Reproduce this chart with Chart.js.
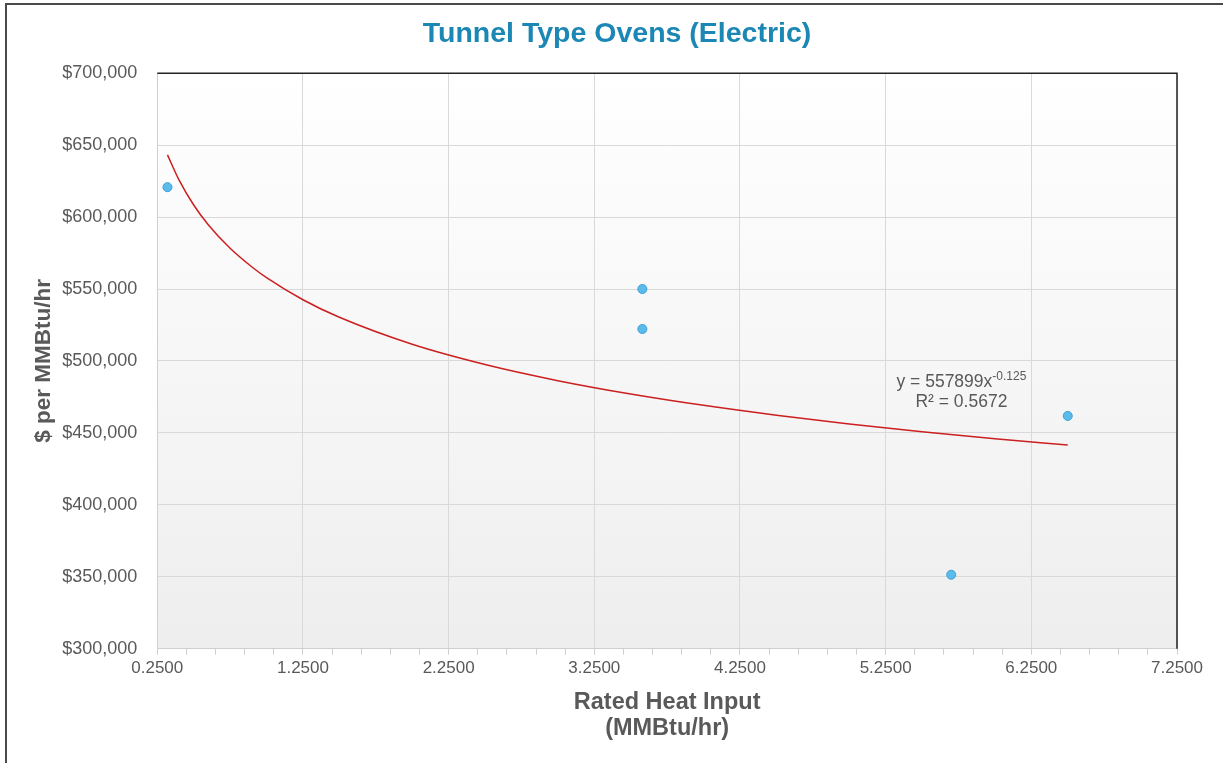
<!DOCTYPE html>
<html>
<head>
<meta charset="utf-8">
<script src="https://cdn.jsdelivr.net/npm/chart.js@4.4.1/dist/chart.umd.min.js"></script>
<style>
  html, body { margin:0; padding:0; background:#fff; overflow:hidden; }
  #frame { position:absolute; left:5px; top:3px; width:1300px; height:900px;
           border-left:2px solid #4a4a4a; border-top:2px solid #4a4a4a; }
  #myChart { position:absolute; left:0; top:0; }
</style>
</head>
<body>
<div id="frame"></div>
<canvas id="myChart" width="1223" height="763"></canvas>
<script>
// measured points
var heatInput = [0.32, 3.58, 3.58, 5.70, 6.50];
var costPerMMBtu = [620800, 550000, 522200, 351400, 461800];

// power trendline
var trendX = [0.32, 0.4, 0.5, 0.6, 0.75, 0.9, 1.0, 1.25, 1.5, 2.0, 2.5, 3.0, 3.5, 4.0, 4.5, 5.0, 5.5, 6.0, 6.5];
var trendY = [643260, 625640, 608390, 594670, 578300, 565300, 557899, 542560, 530330, 511590, 497520, 486310, 477030, 469140, 462280, 456230, 450830, 445950, 441500];

var xMajorTicks = [0.25, 1.25, 2.25, 3.25, 4.25, 5.25, 6.25, 7.25];
var yTicks = [300000, 350000, 400000, 450000, 500000, 550000, 600000, 650000, 700000];
var trendLabel = ["y = 557899x", "-0.125", "R\u00b2 = 0.5672"];

var txtColor = '#595959';
var gridColor = '#d9d9d9';
var fam = '"Liberation Sans", Arial, sans-serif';

function isMajor(v){
  for (var i=0;i<xMajorTicks.length;i++){ if (Math.abs(xMajorTicks[i]-v) < 1e-6) return true; }
  return false;
}

var pointsXY = heatInput.map(function(x,i){ return {x:x, y:costPerMMBtu[i]}; });
var trendXY = trendX.map(function(x,i){ return {x:x, y:trendY[i]}; });

var plotDeco = {
  id:'plotDeco',
  beforeDraw:function(chart){
    var a = chart.chartArea, c = chart.ctx;
    var g = c.createLinearGradient(0, a.top, 0, a.bottom);
    g.addColorStop(0, '#ffffff');
    g.addColorStop(1, '#eeeeee');
    c.save();
    c.fillStyle = g;
    c.fillRect(a.left, a.top, a.right-a.left, a.bottom-a.top);
    c.restore();
  },
  afterDatasetsDraw:function(chart){
    var a = chart.chartArea, c = chart.ctx;
    c.save();
    c.strokeStyle = '#222';
    c.lineWidth = 1.5;
    c.beginPath();
    c.moveTo(a.left, a.top);
    c.lineTo(a.right, a.top);
    c.lineTo(a.right, a.bottom);
    c.stroke();

    // trendline equation
    var xs = chart.scales.x, ys = chart.scales.y;
    var cx = xs.getPixelForValue(5.77);
    var y1 = ys.getPixelForValue(485400);
    var y2 = ys.getPixelForValue(471500);
    c.fillStyle = txtColor;
    c.textBaseline = 'middle';
    c.font = '17.5px ' + fam;
    var w1 = c.measureText(trendLabel[0]).width;
    c.font = '12px ' + fam;
    var w2 = c.measureText(trendLabel[1]).width;
    var sx = cx - (w1+w2)/2;
    c.font = '17.5px ' + fam;
    c.textAlign = 'left';
    c.fillText(trendLabel[0], sx, y1);
    c.font = '12px ' + fam;
    c.fillText(trendLabel[1], sx+w1, y1-5);
    c.font = '17.5px ' + fam;
    c.textAlign = 'center';
    c.fillText(trendLabel[2], cx, y2);
    c.restore();
  }
};

var ctx = document.getElementById('myChart').getContext('2d');
var chart = new Chart(ctx, {
  type:'scatter',
  data:{
    datasets:[{
      label:'Tunnel Type Ovens',
      data:pointsXY,
      order:0,
      backgroundColor:'#5bbcec',
      borderColor:'#3d9fd6',
      borderWidth:1,
      pointRadius:4.5
    },{
      label:'Power trend',
      data:trendXY,
      type:'line',
      order:1,
      showLine:true,
      borderColor:'#cc1f1f',
      borderWidth:1.5,
      pointRadius:0,
      cubicInterpolationMode:'monotone',
      fill:false
    }]
  },
  options:{
    responsive:false,
    animation:false,
    layout:{ padding:{ left:45, right:34, top:0, bottom:21.5 } },
    plugins:{
      legend:{ display:false },
      tooltip:{ enabled:false },
      title:{
        display:true,
        text:'Tunnel Type Ovens (Electric)',
        color:'#1b87b4',
        font:{ family:fam, size:28.5, weight:'bold' },
        padding:{ top:17.5, bottom:21.5 }
      }
    },
    scales:{
      x:{
        type:'linear',
        min:0.25, max:7.25,
        afterBuildTicks:function(axis){
          var t = [];
          for (var k=0;k<=35;k++){ t.push({value: Math.round((0.25+k*0.2)*1000)/1000}); }
          axis.ticks = t;
        },
        ticks:{
          autoSkip:false,
          maxRotation:0,
          color:txtColor,
          padding:3,
          font:{ family:fam, size:17 },
          callback:function(v){ return isMajor(v) ? v.toFixed(4) : ''; }
        },
        grid:{
          color:function(c){ return isMajor(c.tick.value) ? gridColor : 'rgba(0,0,0,0)'; },
          tickColor:'#cfcfcf',
          tickLength:6
        },
        border:{ color:'#cfcfcf' },
        title:{
          display:true,
          text:['Rated Heat Input','(MMBtu/hr)'],
          color:txtColor,
          font:{ family:fam, size:23.5, weight:'bold', lineHeight:1.1 },
          padding:{ top:8.7, bottom:0 }
        }
      },
      y:{
        min:300000, max:700000,
        afterBuildTicks:function(axis){
          axis.ticks = yTicks.map(function(v){ return {value:v}; });
        },
        ticks:{
          color:txtColor,
          padding:20,
          font:{ family:fam, size:18 },
          callback:function(v){ return '$' + v.toLocaleString('en-US'); }
        },
        grid:{ color:gridColor, drawTicks:false },
        border:{ color:'#cfcfcf' },
        title:{
          display:true,
          text:'$ per MMBtu/hr',
          color:txtColor,
          font:{ family:fam, size:22.5, weight:'bold' },
          padding:{ top:-14.5, bottom:-15.3 }
        }
      },
      // empty spacer on the right so the plot ends where the reference does
      y2:{
        position:'right',
        min:300000, max:700000,
        grid:{ display:false },
        border:{ display:false },
        ticks:{ display:false },
        afterFit:function(axis){ axis.width = 12; }
      }
    }
  },
  plugins:[plotDeco]
});
</script>
</body>
</html>
